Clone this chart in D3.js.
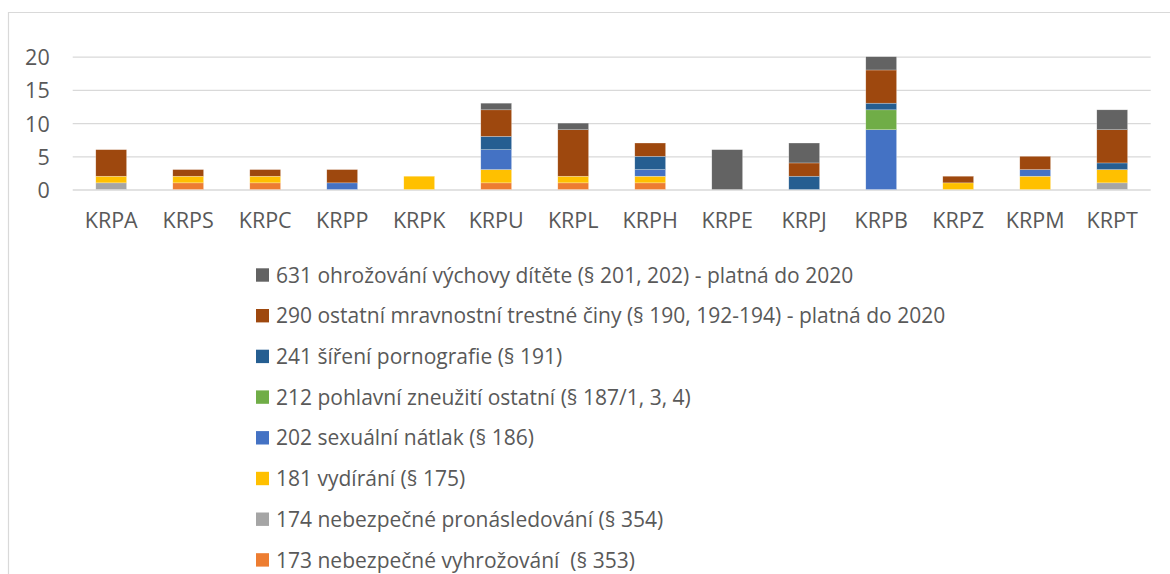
<!DOCTYPE html>
<html>
<head>
<meta charset="utf-8">
<script src="https://cdn.jsdelivr.net/npm/d3@7"></script>
<style>
  body { margin: 0; background: #fff; }
  text { font-family: "Open Sans", sans-serif; fill: #595959; }
</style>
</head>
<body>
<div id="chart"></div>
<script>
// regions (x axis)
const categories = ["KRPA", "KRPS", "KRPC", "KRPP", "KRPK", "KRPU", "KRPL",
    "KRPH", "KRPE", "KRPJ", "KRPB", "KRPZ", "KRPM", "KRPT"];

// series, stacked bottom to top
const seriesNames = [
    "173 nebezpečné vyhrožování  (§ 353)",
    "174 nebezpečné pronásledování (§ 354)",
    "181 vydírání (§ 175)",
    "202 sexuální nátlak (§ 186)",
    "212 pohlavní zneužití ostatní (§ 187/1, 3, 4)",
    "241 šíření pornografie (§ 191)",
    "290 ostatní mravnostní trestné činy (§ 190, 192-194) - platná do 2020",
    "631 ohrožování výchovy dítěte (§ 201, 202) - platná do 2020"
];
const seriesColors = ["#ED7D31", "#A5A5A5", "#FFC000", "#4472C4", "#70AD47", "#255E91", "#9E480E", "#636363"];

const s173 = [0, 1, 1, 0, 0, 1, 1, 1, 0, 0, 0, 0, 0, 0];
const s174 = [1, 0, 0, 0, 0, 0, 0, 0, 0, 0, 0, 0, 0, 1];
const s181 = [1, 1, 1, 0, 2, 2, 1, 1, 0, 0, 0, 1, 2, 2];
const s202 = [0, 0, 0, 1, 0, 3, 0, 1, 0, 0, 9, 0, 1, 0];
const s212 = [0, 0, 0, 0, 0, 0, 0, 0, 0, 0, 3, 0, 0, 0];
const s241 = [0, 0, 0, 0, 0, 2, 0, 2, 0, 2, 1, 0, 0, 1];
const s290 = [4, 1, 1, 2, 0, 4, 7, 2, 0, 2, 5, 1, 2, 5];
const s631 = [0, 0, 0, 0, 0, 1, 1, 0, 6, 3, 2, 0, 0, 3];

const yTicks = [0, 5, 10, 15, 20];

const seriesValues = [s173, s174, s181, s202, s212, s241, s290, s631];

let W = 1170, H = 574;
let plot = {left: 72.7, right: 1150.7, top: 56.7, bottom: 189.5};

const svg = d3.select("#chart")
    .append("svg")
    .attr("width", W)
    .attr("height", H);

// chart frame (only left and top edges are visible)
svg.append("path")
    .attr("d", "M8.5," + H + "V12.5H" + W)
    .attr("fill", "none")
    .attr("stroke", "#d9d9d9")
    .attr("stroke-width", 1.2);

// table for the stack
var table = categories.map(function (c, i) {
    var row = {cat: c};
    seriesNames.forEach(function (s, j) { row[s] = seriesValues[j][i]; });
    return row;
});
var stacked = d3.stack().keys(seriesNames)(table);

var x = d3.scaleBand()
    .domain(categories)
    .range([plot.left, plot.right]);

var y = d3.scaleLinear()
    .domain([0, 20])
    .range([plot.bottom, plot.top]);

var color = d3.scaleOrdinal()
    .domain(seriesNames)
    .range(seriesColors);

// Y axis + gridlines
var yAxis = svg.append("g")
    .attr("transform", "translate(" + plot.left + ",0)")
    .call(d3.axisLeft(y).tickValues(yTicks)
        .tickSize(-(plot.right - plot.left)).tickPadding(23));
yAxis.select(".domain").remove();
yAxis.selectAll("line").attr("stroke", "#d9d9d9").attr("stroke-width", 1.3);
yAxis.selectAll("text")
    .style("font-size", "21.5px")
    .attr("dy", "0.37em");

// X axis labels
var xAxis = svg.append("g")
    .attr("transform", "translate(0," + plot.bottom + ")")
    .call(d3.axisBottom(x).tickSize(0).tickPadding(23.5));
xAxis.select(".domain").remove();
xAxis.selectAll("text").style("font-size", "21.5px");

// bars
var barW = x.bandwidth() * 0.4;
svg.append("g")
    .selectAll("g")
    .data(stacked)
    .enter().append("g")
    .attr("fill", function (d) { return color(d.key); })
    .selectAll("rect")
    .data(function (d) { return d.filter(function (p) { return p[1] > p[0]; }); })
    .enter().append("rect")
    .attr("x", function (d) { return x(d.data.cat) + (x.bandwidth() - barW) / 2; })
    .attr("y", function (d) { return y(d[1]); })
    .attr("width", barW)
    .attr("height", function (d) { return y(d[0]) - y(d[1]); })
    .attr("stroke", "#fff")
    .attr("stroke-width", 0.5)
    .attr("stroke-opacity", 0.5);

// legend, top item is the last series
var legendOrder = seriesNames.slice().reverse();
var legend = svg.selectAll(".legend")
    .data(legendOrder)
    .enter().append("g")
    .attr("class", "legend")
    .attr("transform", function (d, i) { return "translate(256," + (268.3 + i * 40.7) + ")"; });

legend.append("rect")
    .attr("width", 13)
    .attr("height", 13.4)
    .attr("fill", function (d) { return color(d); });

legend.append("text")
    .attr("x", 20)
    .attr("y", 14.3)
    .style("font-size", "21px")
    .style("white-space", "pre")
    .text(function (d) { return d; });
</script>
</body>
</html>
